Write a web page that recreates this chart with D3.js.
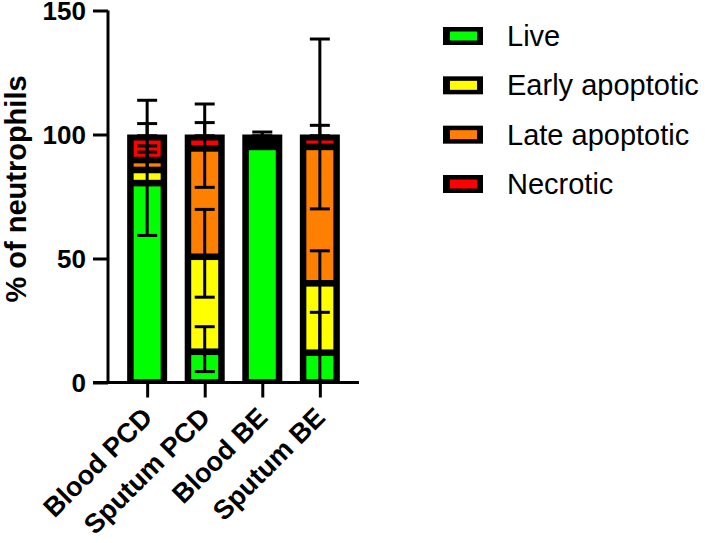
<!DOCTYPE html>
<html>
<head>
<meta charset="utf-8">
<script src="https://cdn.jsdelivr.net/npm/d3@7"></script>
<style>
  html, body { margin: 0; padding: 0; background: #fff; }
  svg { display: block; font-family: "Liberation Sans", Arial, sans-serif; }
</style>
</head>
<body>
<svg id="chart" width="709" height="543"></svg>
<script>
// ---- data ----
const categories = ["Blood PCD", "Sputum PCD", "Blood BE", "Sputum BE"];
const seriesNames = ["Live", "Early apoptotic", "Late apoptotic", "Necrotic"];
const seriesColors = ["#00ff00", "#ffff00", "#ff8000", "#ff0000"];

// mean % of neutrophils per segment
const live     = [80.4, 12.4, 95.0, 12.0];
const early    = [5.3, 38.3, 1.8, 28.0];
const late     = [4.0, 43.7, 1.6, 55.0];
const necrotic = [10.3, 5.6, 1.6, 5.0];

// error bar extents (upward / downward from segment top)
const livePlus      = [24.0, 10.1, 1.0, 16.3];
const liveMinus     = [21.1, 8.0, 0.5, 12.0];
const earlyPlus     = [7.2, 19.1, 0.5, 13.1];
const earlyMinus    = [0.5, 16.3, 0.5, 28.0];
const latePlus      = [5.7, 10.4, 0.5, 8.7];
const lateMinus     = [0.5, 15.7, 0.5, 25.0];
const necroticPlus  = [13.8, 12.3, 1.0, 38.5];
const necroticMinus = [0.5, 0.5, 0.5, 0.5];

const yTicks = [0, 50, 100, 150];
const yTitle = "% of neutrophils";

// ---- build ----
const values = [live, early, late, necrotic];
const plus = [livePlus, earlyPlus, latePlus, necroticPlus];
const minus = [liveMinus, earlyMinus, lateMinus, necroticMinus];

const svg = d3.select("#chart");
const x = d3.scalePoint().domain(categories).range([108, 359]).padding(0.68);
const y = d3.scaleLinear().domain([0, 150]).range([382.5, 10.5]);

const barW = 40, insetX = 6.5, insetTop = 6, insetMid = 3.3;

const stacks = categories.map((c, i) => {
  let acc = 0;
  return values.map((arr, s) => {
    const y0 = acc; acc += arr[i];
    return { cat: c, s, y0, y1: acc, plus: plus[s][i], minus: minus[s][i] };
  });
});

const bars = svg.append("g");
stacks.forEach(stack => {
  const cx = x(stack[0].cat);
  const total = stack[stack.length - 1].y1;
  bars.append("rect")
    .attr("x", cx - barW / 2).attr("width", barW)
    .attr("y", y(total)).attr("height", y(0) - y(total))
    .attr("fill", "#000");
  stack.forEach((seg, k) => {
    const top = y(seg.y1) + (k === stack.length - 1 ? insetTop : insetMid);
    const bot = y(seg.y0) - insetMid;
    const h = Math.max(0, bot - top);
    if (h > 0) {
      bars.append("rect")
        .attr("x", cx - barW / 2 + insetX).attr("width", barW - 2 * insetX)
        .attr("y", top).attr("height", h)
        .attr("fill", seriesColors[seg.s]);
    }
  });
});

// error bars
const eb = svg.append("g").attr("stroke", "#000").attr("stroke-width", 3).attr("fill", "none");
const capW = 20;
stacks.forEach(stack => {
  const cx = x(stack[0].cat);
  stack.forEach(seg => {
    const hi = seg.y1 + seg.plus, lo = Math.max(0, seg.y1 - seg.minus);
    eb.append("line").attr("x1", cx).attr("x2", cx).attr("y1", y(hi)).attr("y2", y(lo));
    eb.append("line").attr("x1", cx - capW / 2).attr("x2", cx + capW / 2).attr("y1", y(hi)).attr("y2", y(hi));
    if (lo > 0) eb.append("line").attr("x1", cx - capW / 2).attr("x2", cx + capW / 2).attr("y1", y(lo)).attr("y2", y(lo));
  });
});

// y axis
const yAxis = d3.axisLeft(y).tickValues(yTicks).tickSize(15).tickPadding(7).tickSizeOuter(0);
const gy = svg.append("g").attr("transform", "translate(108,0)").call(yAxis);
gy.select(".domain").attr("stroke-width", 3).attr("d", `M0,${y(150)}V${y(0) + 1.5}`);
gy.selectAll(".tick line").attr("stroke-width", 3);
gy.selectAll(".tick text").attr("font-size", 26).attr("font-weight", "bold")
  .attr("font-family", "Liberation Sans, Arial, sans-serif").attr("fill", "#000")
  .attr("dy", "0.36em");

// x axis
const xAxis = d3.axisBottom(x).tickSize(15).tickSizeOuter(0).tickFormat("");
const gx = svg.append("g").attr("transform", `translate(0,${y(0)})`).call(xAxis);
gx.select(".domain").attr("stroke-width", 3).attr("d", "M93,0H359");
gx.selectAll(".tick line").attr("stroke-width", 3);

// x labels
svg.append("g").selectAll("text").data(categories).join("text")
  .attr("transform", d => `translate(${x(d) + 7},419) rotate(-45)`)
  .attr("text-anchor", "end")
  .attr("font-size", 27).attr("font-weight", "bold").attr("fill", "#000")
  .text(d => d);

// y title
svg.append("text")
  .attr("transform", "translate(26,189) rotate(-90)")
  .attr("text-anchor", "middle")
  .attr("font-size", 29).attr("font-weight", "bold").attr("fill", "#000")
  .text(yTitle);

// legend
const legY = d3.scalePoint().domain(seriesNames).range([36, 184]);
const leg = svg.append("g");
seriesNames.forEach((name, i) => {
  const cy = legY(name);
  leg.append("rect").attr("x", 443).attr("y", cy - 9).attr("width", 40).attr("height", 18).attr("fill", "#000");
  leg.append("rect").attr("x", 450).attr("y", cy - 4.5).attr("width", 27).attr("height", 9).attr("fill", seriesColors[i]);
  leg.append("text").attr("x", 507).attr("y", cy + 10)
    .attr("font-size", 29).attr("fill", "#000").text(name);
});
</script>
</body>
</html>
